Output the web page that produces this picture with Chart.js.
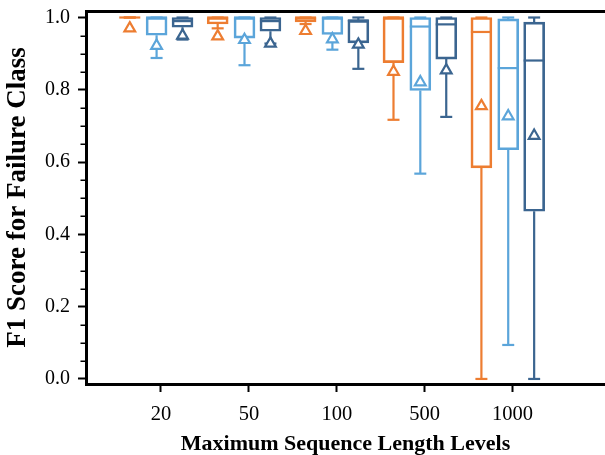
<!DOCTYPE html>
<html>
<head>
<meta charset="utf-8">
<script src="https://cdn.jsdelivr.net/npm/chart.js@4"></script>
<style>
  html, body { margin: 0; padding: 0; background: #fff; overflow: hidden; }
  #wrap { width: 605px; height: 455px; }
</style>
</head>
<body>
<div id="wrap"><canvas id="c" width="605" height="455"></canvas></div>
<script>
// ---- data ----
const categories = ['20', '50', '100', '500', '1000'];
const yTicks = [0.0, 0.2, 0.4, 0.6, 0.8, 1.0];
const yMinorTicks = [0.05, 0.1, 0.15, 0.25, 0.3, 0.35, 0.45, 0.5, 0.55, 0.65, 0.7, 0.75, 0.85, 0.9, 0.95];

// series 1 (orange)
const s1Min  = [1.000, 0.970, 0.982, 0.717, 0.000];
const s1Q1   = [1.000, 0.982, 0.988, 0.875, 0.584];
const s1Med  = [1.000, 1.000, 1.000, 1.000, 0.960];
const s1Q3   = [1.000, 1.000, 1.000, 1.000, 1.000];
const s1Max  = [1.000, 1.000, 1.000, 1.000, 1.000];
const s1Mean = [0.970, 0.948, 0.963, 0.850, 0.755];

// series 2 (light blue)
const s2Min  = [0.888, 0.868, 0.911, 0.568, 0.094];
const s2Q1   = [0.951, 0.943, 0.953, 0.798, 0.634];
const s2Med  = [1.000, 1.000, 1.000, 0.975, 0.860];
const s2Q3   = [1.000, 1.000, 1.000, 1.000, 0.996];
const s2Max  = [1.000, 1.000, 1.000, 1.000, 1.000];
const s2Mean = [0.922, 0.938, 0.940, 0.821, 0.727];

// series 3 (dark blue)
const s3Min  = [0.939, 0.928, 0.858, 0.725, 0.000];
const s3Q1   = [0.973, 0.962, 0.930, 0.885, 0.464];
const s3Med  = [0.990, 0.990, 0.992, 0.981, 0.881];
const s3Q3   = [1.000, 1.000, 0.992, 1.000, 0.987];
const s3Max  = [1.000, 1.000, 1.000, 1.000, 1.000];
const s3Mean = [0.950, 0.928, 0.925, 0.854, 0.673];

// ---- styling ----
const series = [
  { color: '#ED7D31', offset: -0.355, min: s1Min, q1: s1Q1, med: s1Med, q3: s1Q3, max: s1Max, mean: s1Mean },
  { color: '#5BA5DA', offset: -0.05,  min: s2Min, q1: s2Q1, med: s2Med, q3: s2Q3, max: s2Max, mean: s2Mean },
  { color: '#3B6590', offset: 0.245,  min: s3Min, q1: s3Q1, med: s3Med, q3: s3Q3, max: s3Max, mean: s3Mean }
];

const datasets = [];
series.forEach(s => {
  const pos = i => i + s.offset;
  datasets.push({
    type: 'bar', grouped: false, order: 3,
    data: categories.map((_, i) => ({ x: pos(i), y: [s.q1[i], s.q3[i]] })),
    backgroundColor: 'rgba(0,0,0,0)', borderColor: s.color,
    borderWidth: 2, borderSkipped: false, barThickness: 21
  });
  const wh = [];
  categories.forEach((_, i) => {
    wh.push({ x: pos(i), y: s.q1[i] }, { x: pos(i), y: s.min[i] }, { x: pos(i), y: null },
            { x: pos(i), y: s.q3[i] }, { x: pos(i), y: s.max[i] }, { x: pos(i), y: null });
  });
  datasets.push({
    type: 'line', order: 4, data: wh, borderColor: s.color, borderWidth: 2.2,
    pointRadius: 0, spanGaps: false, fill: false, tension: 0
  });
  const caps = [];
  categories.forEach((_, i) => { caps.push({ x: pos(i), y: s.min[i] }, { x: pos(i), y: s.max[i] }); });
  datasets.push({
    type: 'scatter', order: 2, data: caps, pointStyle: 'line', pointRadius: 6,
    borderColor: s.color, borderWidth: 2.2, backgroundColor: s.color
  });
  datasets.push({
    type: 'scatter', order: 1, data: categories.map((_, i) => ({ x: pos(i), y: s.med[i] })),
    pointStyle: 'line', pointRadius: 10.5, borderColor: s.color, borderWidth: 2.2, backgroundColor: s.color
  });
  datasets.push({
    type: 'scatter', order: 0, data: categories.map((_, i) => ({ x: pos(i), y: s.mean[i] })),
    pointStyle: 'triangle', pointRadius: 6.2, borderColor: s.color, borderWidth: 2.2, backgroundColor: '#ffffff'
  });
});

const minorTickPlugin = {
  id: 'minorTicks',
  afterDraw(chart) {
    const y = chart.scales.y, ctx = chart.ctx, left = chart.chartArea.left;
    ctx.save();
    ctx.strokeStyle = '#000';
    ctx.lineWidth = 1.5;
    yMinorTicks.forEach(v => {
      const py = Math.round(y.getPixelForValue(v)) + 0.25;
      ctx.beginPath();
      ctx.moveTo(left - 5.5, py);
      ctx.lineTo(left, py);
      ctx.stroke();
    });
    ctx.restore();
  }
};

const FONT = 'Liberation Serif';

new Chart(document.getElementById('c'), {
  type: 'bar',
  data: { datasets },
  plugins: [minorTickPlugin],
  options: {
    responsive: false, animation: false, events: [],
    devicePixelRatio: 1,
    layout: { autoPadding: false, padding: { top: 11, left: 0, right: 0, bottom: 0 } },
    plugins: { legend: { display: false }, tooltip: { enabled: false } },
    scales: {
      x: {
        type: 'linear', min: -0.853, max: 5.051, offset: false,
        grid: { display: true, offset: false, drawOnChartArea: false, tickLength: 8, tickWidth: 2, tickColor: '#000' },
        border: { display: true, width: 3, color: '#000' },
        afterBuildTicks: sc => { sc.ticks = categories.map((_, i) => ({ value: i })); },
        afterFit: sc => { sc.height = 71; sc.paddingLeft = 0; sc.paddingRight = 0; },
        ticks: {
          color: '#000', padding: 10, maxRotation: 0, autoSkip: false,
          font: { family: FONT, size: 20.5 },
          callback: v => categories[v]
        },
        title: {
          display: true, text: 'Maximum Sequence Length Levels', color: '#000',
          font: { family: FONT, size: 22, weight: 'bold' }, padding: { top: 0, bottom: -3 }
        }
      },
      x2: {
        type: 'linear', position: 'top', min: 0, max: 1, display: true,
        grid: { display: false }, ticks: { display: false },
        border: { display: true, width: 3, color: '#000' },
        afterFit: sc => { sc.height = 0; sc.paddingLeft = 0; sc.paddingRight = 0; }
      },
      y: {
        type: 'linear', min: -0.014, max: 1.018,
        grid: { display: true, drawOnChartArea: false, tickLength: 8, tickWidth: 2, tickColor: '#000' },
        border: { display: true, width: 3, color: '#000' },
        afterBuildTicks: sc => { sc.ticks = yTicks.map(v => ({ value: v })); },
        afterFit: sc => { sc.width = 86; sc.paddingTop = 0; sc.paddingBottom = 0; },
        ticks: {
          color: '#000', padding: 8,
          font: { family: FONT, size: 20 },
          callback: v => Number(v).toFixed(1)
        },
        title: {
          display: true, text: 'F1 Score for Failure Class', color: '#000',
          font: { family: FONT, size: 27, weight: 'bold' }, padding: { top: 2 }
        }
      }
    }
  }
});
</script>
</body>
</html>
